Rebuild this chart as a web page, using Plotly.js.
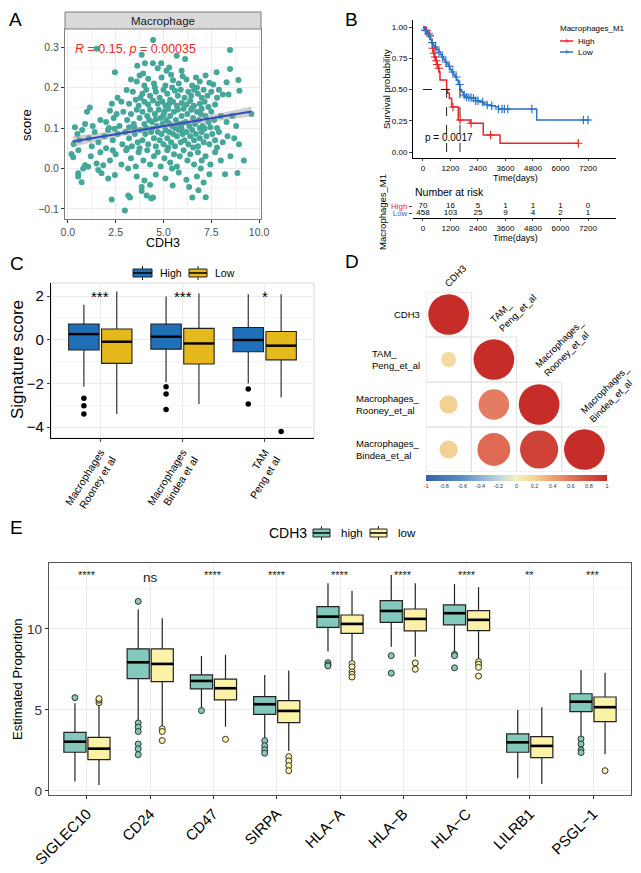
<!DOCTYPE html>
<html>
<head>
<meta charset="utf-8">
<script src="https://cdn.plot.ly/plotly-3.0.1.min.js"></script>
<style>
body { margin: 0; background: #fff; }
#fig { width: 641px; height: 873px; }
</style>
</head>
<body>
<div id="fig"></div>
<script>
const W = 641, H = 873;
const FONT = 'Liberation Sans, Arial, Helvetica, sans-serif';

// ---------- A: CDH3 vs macrophage score ----------
const scatterPoints = [
	[4.46,0.318],[1.5,0.296],[8.48,0.293],[3.86,0.281],[5.69,0.279],[6.13,0.271],[4.03,0.26],[4.45,0.26],[4.88,0.26],
	[3.63,0.254],[5.16,0.242],[5.95,0.242],[8.48,0.246],[7.78,0.238],[2.46,0.238],[3.94,0.235],[5.3,0.25],[4.7,0.248],
	[8.92,0.219],[8.3,0.213],[3.3,0.22],[3.6,0.215],[4.2,0.222],[4.5,0.21],[4.9,0.225],[5.1,0.205],[5.5,0.218],[5.8,0.21],
	[6.2,0.22],[6.5,0.205],[6.9,0.215],[7.2,0.23],[7.6,0.208],[4.0,0.205],[5.4,0.232],[6.0,0.228],[3.75,0.23],[6.7,0.225],[7.4,0.212],
	[8.97,0.192],[3.07,0.194],[3.4,0.19],[3.9,0.185],[4.1,0.195],[4.3,0.18],[4.6,0.19],[4.8,0.175],[5.0,0.195],[5.2,0.185],
	[5.35,0.17],[5.6,0.192],[5.75,0.18],[5.9,0.195],[6.1,0.175],[6.3,0.19],[6.45,0.18],[6.6,0.195],[6.8,0.185],[7.0,0.175],
	[7.1,0.195],[7.3,0.18],[7.5,0.19],[7.8,0.175],[8.1,0.183],[8.4,0.183],[2.8,0.165],[3.2,0.16],[3.55,0.17],[3.7,0.155],
	[4.0,0.165],[4.2,0.158],[4.45,0.168],[4.7,0.16],[4.95,0.165],[5.1,0.155],[5.3,0.16],[5.5,0.165],[5.7,0.155],[5.95,0.162],
	[6.2,0.158],[6.4,0.167],[6.6,0.155],[6.9,0.16],[7.15,0.165],[7.35,0.152],[7.7,0.158],[2.3,0.16],[1.15,0.151],[2.6,0.175],
	[3.8,0.175],[4.55,0.2],[5.45,0.2],[6.75,0.2],[7.9,0.195],
	[2.2,0.143],[2.55,0.135],[0.37,0.102],[0.9,0.11],[1.3,0.105],[1.7,0.12],[2.0,0.115],[2.4,0.125],[2.7,0.105],[2.9,0.14],
	[3.1,0.12],[3.3,0.135],[3.45,0.11],[3.6,0.145],[3.75,0.125],[3.9,0.14],[4.0,0.11],[4.15,0.13],[4.3,0.145],[4.4,0.115],
	[4.55,0.135],[4.65,0.105],[4.75,0.145],[4.85,0.125],[4.95,0.11],[5.05,0.14],[5.15,0.12],[5.25,0.148],[5.35,0.13],[5.45,0.105],
	[5.55,0.14],[5.65,0.12],[5.75,0.145],[5.85,0.11],[5.95,0.13],[6.05,0.148],[6.15,0.115],[6.25,0.135],[6.35,0.105],[6.45,0.145],
	[6.55,0.125],[6.65,0.11],[6.75,0.14],[6.85,0.12],[6.95,0.135],[7.05,0.105],[7.2,0.13],[7.35,0.115],[7.5,0.14],[7.65,0.12],
	[7.8,0.1],[8.0,0.13],[8.3,0.115],[8.6,0.13],[9.6,0.135],[8.8,0.105],[1.0,0.14],[4.1,0.1],[4.6,0.122],[5.0,0.133],
	[5.6,0.1],[6.0,0.112],[6.5,0.15],[7.0,0.148],[3.5,0.1],[3.2,0.102],[4.25,0.12],[5.3,0.112],[5.9,0.102],[6.9,0.1],[7.45,0.102],[2.15,0.1],
	[0.5,0.085],[0.75,0.095],[1.1,0.075],[1.4,0.09],[1.6,0.065],[1.9,0.08],[2.1,0.095],[2.35,0.07],[2.6,0.085],[2.85,0.06],
	[3.0,0.09],[3.2,0.075],[3.35,0.055],[3.5,0.085],[3.65,0.065],[3.8,0.095],[3.9,0.07],[4.05,0.085],[4.2,0.06],[4.35,0.09],
	[4.5,0.075],[4.6,0.055],[4.7,0.09],[4.8,0.07],[4.9,0.085],[5.0,0.06],[5.1,0.095],[5.2,0.075],[5.3,0.09],[5.4,0.065],
	[5.5,0.085],[5.6,0.055],[5.7,0.08],[5.8,0.095],[5.9,0.065],[6.0,0.085],[6.1,0.07],[6.2,0.09],[6.3,0.06],[6.4,0.08],
	[6.5,0.095],[6.6,0.07],[6.7,0.085],[6.8,0.055],[6.9,0.075],[7.0,0.09],[7.1,0.065],[7.25,0.08],[7.4,0.06],[7.55,0.085],
	[7.7,0.07],[7.9,0.09],[8.1,0.065],[8.35,0.08],[8.7,0.075],[8.95,0.06],[0.3,0.06],[0.6,0.07],[1.25,0.055],[2.0,0.05],
	[2.45,0.098],[3.1,0.05],[3.75,0.05],[4.4,0.098],[5.25,0.052],[5.95,0.098],[6.55,0.052],[7.15,0.098],[7.8,0.052],
	[0.19,0.036],[0.28,0.028],[0.8,0.0],[0.9,0.008],[1.06,0.004],[1.5,0.012],[1.85,0.008],[1.2,0.03],[1.7,0.04],[2.2,0.02],
	[2.5,0.035],[2.8,0.01],[3.05,0.045],[3.3,0.025],[3.55,0.005],[3.7,0.04],[3.95,0.02],[4.15,0.045],[4.3,0.01],[4.5,0.03],
	[4.7,0.04],[4.85,0.005],[5.05,0.025],[5.2,0.045],[5.35,0.015],[5.55,0.035],[5.7,0.005],[5.85,0.03],[6.05,0.045],[6.25,0.02],
	[6.4,0.035],[6.6,0.01],[6.8,0.04],[7.0,0.02],[7.2,0.03],[7.45,0.01],[7.7,0.04],[8.0,0.02],[8.5,0.03],[9.2,0.02],
	[5.45,0.0],[3.15,0.0],[6.95,0.0],[2.35,0.045],[0.55,0.045],
	[0.54,-0.012],[0.72,-0.034],[0.54,-0.02],[2.46,-0.016],[2.11,-0.025],[1.76,-0.012],[1.59,-0.004],[3.86,-0.046],[5.48,-0.042],
	[6.34,-0.046],[7.4,-0.014],[8.22,-0.014],[8.87,-0.011],[3.6,-0.02],[4.0,-0.03],[4.6,-0.015],[5.1,-0.025],[5.8,-0.01],
	[6.2,-0.028],[6.75,-0.02],[4.3,-0.04],[7.1,-0.035],
	[2.98,-0.104],[2.29,-0.077],[3.25,-0.072],[3.16,-0.067],[4.45,-0.072],[4.36,-0.074],[3.86,-0.056],[4.12,-0.067],
	[6.51,-0.072],[6.83,-0.054],[7.21,-0.071]
];
const fitIntercept = 0.065, fitSlope = 0.0079;
const fitRange = [0.25, 9.6];
const bandX = [0.25, 1.5, 3, 4.5, 5.5, 7, 8.5, 9.6];
const bandHalf = [0.013, 0.010, 0.007, 0.005, 0.005, 0.007, 0.010, 0.012];

// ---------- B: Kaplan-Meier ----------
const highTimes = [0, 60, 120, 200, 260, 330, 380, 420, 450, 500, 560, 600, 650, 700, 742, 1030, 1080, 1150, 1250, 1540, 2050, 2630, 3360, 6777];
const highSurv  = [1.0, 0.986, 0.971, 0.957, 0.929, 0.9, 0.87, 0.83, 0.79, 0.76, 0.73, 0.70, 0.67, 0.64, 0.576, 0.5, 0.47, 0.43, 0.36, 0.256, 0.23, 0.136, 0.07, 0.07];
const lowTimes = [0, 40, 90, 140, 200, 260, 320, 380, 450, 520, 600, 680, 750, 820, 900, 970, 1040, 1110, 1180, 1250, 1320, 1400, 1470, 1540, 1615, 1690, 1760, 1830, 1950, 2124, 2300, 2487, 2650, 2780, 2950, 3142, 3287, 4960, 7287];
const lowSurv  = [1.0, 0.99, 0.975, 0.96, 0.945, 0.925, 0.9, 0.875, 0.855, 0.84, 0.82, 0.8, 0.78, 0.76, 0.74, 0.72, 0.705, 0.685, 0.66, 0.64, 0.62, 0.6, 0.576, 0.54, 0.498, 0.48, 0.456, 0.44, 0.435, 0.43, 0.41, 0.40, 0.385, 0.376, 0.37, 0.362, 0.344, 0.256, 0.256];
const highCensor = [150, 300, 430, 480, 520, 580, 620, 690, 1310, 1620, 2100, 2950, 6777];
const lowCensor = [100, 250, 400, 550, 700, 850, 1000, 1150, 1300, 1450, 1600, 1800, 1900, 2000, 2100, 2200, 2300, 2400, 2600, 2800, 3000, 3300, 3450, 3550, 3700, 4750, 7000, 7200];
const riskTimes = [0, 1200, 2400, 3600, 4800, 6000, 7200];
const riskHigh = [70, 16, 5, 1, 1, 1, 0];
const riskLow = [458, 103, 25, 9, 4, 2, 1];
const logRankP = 'p = 0.0017';

// ---------- C: signature scores ----------
const sigSets = ['Macrophages<br>Rooney et al', 'Macrophages<br>Bindea et al', 'TAM<br>Peng et al'];
const cHighLo = [-2.15, -1.95, -2.0];
const cHighQ1 = [-0.47, -0.43, -0.55];
const cHighMed = [0.26, 0.14, -0.01];
const cHighQ3 = [0.72, 0.72, 0.56];
const cHighUp = [1.6, 1.98, 2.09];
const cHighOut = [[-2.68, -3.02, -3.4], [-2.15, -2.49, -3.19], [-2.26, -2.94]];
const cLowLo = [-3.4, -2.94, -2.64];
const cLowQ1 = [-1.08, -1.11, -0.92];
const cLowMed = [-0.09, -0.17, -0.27];
const cLowQ3 = [0.49, 0.52, 0.38];
const cLowUp = [2.21, 2.12, 2.09];
const cLowOut = [[], [], [-4.2]];
const cStars = ['***', '***', '*'];

// ---------- D: correlation ----------
const corrNames = ['CDH3', 'TAM_<br>Peng_et_al', 'Macrophages_<br>Rooney_et_al', 'Macrophages_<br>Bindea_et_al'];
const corrMatrix = [
	[1],
	[0.14, 1],
	[0.2, 0.56, 1],
	[0.2, 0.65, 0.88, 1]
];

// ---------- E: checkpoint genes ----------
const genes = ['SIGLEC10', 'CD24', 'CD47', 'SIRPA', 'HLA\u2212A', 'HLA\u2212B', 'HLA\u2212C', 'LILRB1', 'PSGL\u22121'];
const eHighLo = [0.58, 4.32, 5.1, 3.25, 8.6, 8.9, 8.54, 0.78, 3.31];
const eHighQ1 = [2.39, 6.93, 6.3, 4.73, 10.1, 10.41, 10.25, 2.39, 4.9];
const eHighMed = [3.04, 7.94, 6.79, 5.35, 10.76, 11.11, 10.97, 3.0, 5.51];
const eHighQ3 = [3.62, 8.77, 7.16, 5.82, 11.38, 11.75, 11.48, 3.52, 6.0];
const eHighUp = [5.41, 11.2, 8.33, 7.16, 12.82, 13.33, 12.78, 5.0, 7.47];
const eHighOut = [[5.76], [11.7, 4.2, 3.94, 3.67, 2.9, 2.6, 2.24], [4.96], [3.1, 2.79, 2.54, 2.33], [7.92, 7.78, 7.72], [8.35, 7.27], [8.43, 8.35, 7.6], [], [3.21, 2.9, 2.53, 2.37]];
const eLowLo = [0.37, 3.97, 3.97, 2.47, 7.98, 8.29, 8.09, 0.43, 2.26];
const eLowQ1 = [1.93, 6.75, 5.62, 4.22, 9.73, 9.88, 9.9, 2.06, 4.28];
const eLowMed = [2.61, 7.84, 6.34, 4.94, 10.31, 10.62, 10.56, 2.78, 5.17];
const eLowQ3 = [3.31, 8.77, 6.9, 5.57, 10.86, 11.23, 11.13, 3.35, 5.8];
const eLowUp = [5.3, 10.66, 8.4, 7.43, 12.35, 12.82, 12.57, 5.17, 7.3];
const eLowOut = [[5.45, 5.6, 5.7], [3.84, 3.67, 3.11], [3.19], [2.12, 1.85, 1.56, 1.25], [7.86, 7.66, 7.35, 7.2, 7.03], [7.9, 7.51], [7.98, 7.82, 7.63, 7.09], [], [1.25]];
const eSig = ['****', 'ns', '****', '****', '****', '****', '****', '**', '***'];

// colours
const teal = '#45A69A', fitBlue = '#2D4FC2', rPink = '#EC2B2B';
const kmRed = '#E8262A', kmBlue = '#2B74C4';
const cHighCol = '#2070B8', cLowCol = '#E5B81C';
const eHighCol = '#82C9BC', eLowCol = '#FBF1A7';

// pixel helpers
function px(x) { return x / W; }
function py(y) { return 1 - y / H; }
function domX(a, b) { return [a / W, b / W]; }
function domY(top, bottom) { return [1 - bottom / H, 1 - top / H]; }

function note(text, x, y, size, extra) {
	return Object.assign({
		text: text, x: px(x), y: py(y), xref: 'paper', yref: 'paper',
		xanchor: 'center', yanchor: 'middle',
		showarrow: false, font: { size: size, color: '#000', family: FONT }
	}, extra || {});
}

let traces = [];
let shapes = [];
let annotations = [];

// ===== A =====
traces.push({
	type: 'scatter', mode: 'markers', xaxis: 'x', yaxis: 'y',
	x: scatterPoints.map(p => p[0]), y: scatterPoints.map(p => p[1]),
	marker: { size: 6, color: teal }, hoverinfo: 'skip'
});
let upper = bandX.map((x, i) => fitIntercept + fitSlope * x + bandHalf[i]);
let lower = bandX.map((x, i) => fitIntercept + fitSlope * x - bandHalf[i]);
traces.push({
	type: 'scatter', mode: 'lines', xaxis: 'x', yaxis: 'y',
	x: bandX.concat(bandX.slice().reverse()), y: upper.concat(lower.slice().reverse()),
	fill: 'toself', fillcolor: 'rgba(150,150,150,0.45)', line: { width: 0 }, hoverinfo: 'skip'
});
traces.push({
	type: 'scatter', mode: 'lines', xaxis: 'x', yaxis: 'y',
	x: fitRange, y: fitRange.map(x => fitIntercept + fitSlope * x),
	line: { color: fitBlue, width: 2 }, hoverinfo: 'skip'
});
shapes.push({ type: 'rect', xref: 'paper', yref: 'paper', x0: px(65), x1: px(261), y0: py(29), y1: py(12),
	fillcolor: '#D9D9D9', line: { color: '#7F7F7F', width: 1 } });
annotations.push(note('A', 7, 19, 19, { xanchor: 'left' }));
annotations.push(note('Macrophage', 163, 20.5, 11.5, { font: { size: 11.5, color: '#1A1A1A', family: FONT } }));
annotations.push(note('<i>R</i> = 0.15, <i>p</i> = 0.00035', 73, 49, 12.5, { xanchor: 'left', font: { size: 12.5, color: rPink, family: FONT } }));
annotations.push(note('score', 27, 125, 13, { textangle: -90 }));
annotations.push(note('CDH3', 163, 243, 12.5));

// ===== B =====
function survAt(t, times, surv) {
	let v = surv[0];
	for (let i = 0; i < times.length; i++) if (times[i] <= t) v = surv[i];
	return v;
}
function medianTime(times, surv) {
	for (let i = 0; i < surv.length; i++) if (surv[i] <= 0.5) return times[i];
	return null;
}
[[highTimes, highSurv, highCensor, kmRed], [lowTimes, lowSurv, lowCensor, kmBlue]].forEach(([t, s, c, col]) => {
	traces.push({
		type: 'scatter', mode: 'lines', xaxis: 'x2', yaxis: 'y2', x: t, y: s,
		line: { shape: 'hv', color: col, width: 1.5 }, hoverinfo: 'skip'
	});
	traces.push({
		type: 'scatter', mode: 'markers', xaxis: 'x2', yaxis: 'y2', x: c, y: c.map(v => survAt(v, t, s)),
		marker: { symbol: 'cross-thin', size: 6, line: { color: col, width: 1.2 } }, hoverinfo: 'skip'
	});
});
let medHigh = medianTime(highTimes, highSurv), medLow = medianTime(lowTimes, lowSurv);
let dash = { color: '#222', width: 1, dash: 'dash' };
shapes.push({ type: 'line', xref: 'x2', yref: 'y2', x0: 0, x1: Math.max(medHigh, medLow), y0: 0.5, y1: 0.5, line: dash });
shapes.push({ type: 'line', xref: 'x2', yref: 'y2', x0: medHigh, x1: medHigh, y0: 0, y1: 0.5, line: dash });
shapes.push({ type: 'line', xref: 'x2', yref: 'y2', x0: medLow, x1: medLow, y0: 0, y1: 0.5, line: dash });

traces.push({
	type: 'scatter', mode: 'text', xaxis: 'x3', yaxis: 'y3', x: riskTimes, y: riskTimes.map(() => 2),
	text: riskHigh.map(String), textfont: { size: 8, color: '#000', family: FONT }, hoverinfo: 'skip'
});
traces.push({
	type: 'scatter', mode: 'text', xaxis: 'x3', yaxis: 'y3', x: riskTimes, y: riskTimes.map(() => 1),
	text: riskLow.map(String), textfont: { size: 8, color: '#000', family: FONT }, hoverinfo: 'skip'
});
annotations.push(note('B', 343, 19, 19, { xanchor: 'left' }));
annotations.push(note('Survival probability', 387, 89, 9.5, { textangle: -90 }));
annotations.push(note('Time(days)', 515, 178, 9));
annotations.push(note(logRankP, 423, 137, 10, { xanchor: 'left' }));
annotations.push(note('Number at risk', 413, 192, 10.5, { xanchor: 'left' }));
annotations.push(note('Time(days)', 515, 238, 9));
annotations.push(note('Macrophages_M1', 382, 212, 9.5, { textangle: -90 }));
// B legend
annotations.push(note('Macrophages_M1', 558, 29, 8, { xanchor: 'left' }));
[['High', kmRed, 41], ['Low', kmBlue, 52]].forEach(([lab, col, y]) => {
	shapes.push({ type: 'line', xref: 'paper', yref: 'paper', x0: px(560), x1: px(573), y0: py(y), y1: py(y), line: { color: col, width: 1.5 } });
	annotations.push(note('+', 566.5, y, 9, { font: { size: 9, color: col, family: FONT } }));
	annotations.push(note(lab, 576, y, 8, { xanchor: 'left' }));
});

// ===== C and E box helpers =====
function boxTraces(ax, pos, lo, q1, med, q3, up, outs, col, width, lineW, outStyle) {
	let out = [];
	out.push({
		type: 'box', xaxis: 'x' + ax, yaxis: 'y' + ax, x: pos,
		lowerfence: lo, q1: q1, median: med, q3: q3, upperfence: up,
		width: width, whiskerwidth: 0, boxpoints: false,
		fillcolor: col, line: { color: '#222', width: lineW }, hoverinfo: 'skip'
	});
	let mx = [], my = [];
	pos.forEach((p, i) => { mx.push(p - width / 2, p + width / 2, null); my.push(med[i], med[i], null); });
	out.push({ type: 'scatter', mode: 'lines', xaxis: 'x' + ax, yaxis: 'y' + ax, x: mx, y: my,
		line: { color: '#000', width: lineW * 2.2 }, hoverinfo: 'skip' });
	let ox = [], oy = [];
	outs.forEach((arr, i) => arr.forEach(v => { ox.push(pos[i]); oy.push(v); }));
	out.push(Object.assign({ type: 'scatter', mode: 'markers', xaxis: 'x' + ax, yaxis: 'y' + ax, x: ox, y: oy, hoverinfo: 'skip' }, outStyle));
	return out;
}
function boxKey(x0, x1, yTop, yBot, col) {
	let cx = (x0 + x1) / 2, mid = (yTop + yBot) / 2;
	shapes.push({ type: 'line', xref: 'paper', yref: 'paper', x0: px(cx), x1: px(cx), y0: py(yTop), y1: py(yBot), line: { color: '#222', width: 1 } });
	shapes.push({ type: 'rect', xref: 'paper', yref: 'paper', x0: px(x0), x1: px(x1), y0: py(yTop + 3), y1: py(yBot - 3), fillcolor: col, line: { color: '#222', width: 1 } });
	shapes.push({ type: 'line', xref: 'paper', yref: 'paper', x0: px(x0), x1: px(x1), y0: py(mid), y1: py(mid), line: { color: '#000', width: 1.5 } });
}

// ===== C =====
let cIdx = sigSets.map((_, i) => i + 1);
traces = traces.concat(boxTraces(4, cIdx.map(i => i - 0.2), cHighLo, cHighQ1, cHighMed, cHighQ3, cHighUp, cHighOut, cHighCol, 0.37, 1.1,
	{ marker: { size: 5.5, color: '#000' } }));
traces = traces.concat(boxTraces(4, cIdx.map(i => i + 0.2), cLowLo, cLowQ1, cLowMed, cLowQ3, cLowUp, cLowOut, cLowCol, 0.37, 1.1,
	{ marker: { size: 5.5, color: '#000' } }));
cStars.forEach((s, i) => annotations.push({ text: s, x: i + 1, y: 2.0, xref: 'x4', yref: 'y4', showarrow: false,
	xanchor: 'center', yanchor: 'middle', font: { size: 15, color: '#000', family: FONT } }));
shapes.push({ type: 'rect', xref: 'paper', yref: 'paper', x0: px(51), x1: px(314), y0: py(438), y1: py(283), line: { color: '#D9D9D9', width: 1 }, layer: 'below' });
annotations.push(note('C', 8, 263, 19, { xanchor: 'left' }));
annotations.push(note('Signature score', 17, 360, 17, { textangle: -90 }));
boxKey(133, 152, 266, 280, cHighCol);
boxKey(189, 207, 266, 280, cLowCol);
annotations.push(note('High', 158, 273, 10.5, { xanchor: 'left' }));
annotations.push(note('Low', 213, 273, 10.5, { xanchor: 'left' }));

// ===== D =====
const dLeft = 426, dTop = 292, dRight = 607;
const cellPx = (dRight - dLeft) / corrNames.length;
let dX = [], dY = [], dR = [];
corrMatrix.forEach((row, i) => row.forEach((r, j) => {
	dX.push(j + 1); dY.push(i + 1); dR.push(r);
	shapes.push({ type: 'rect', xref: 'x5', yref: 'y5', x0: j + 0.5, x1: j + 1.5, y0: i + 0.5, y1: i + 1.5,
		line: { color: '#E2E2E2', width: 1 }, layer: 'below' });
}));
const corrScale = [
	[0, '#3361A8'], [0.2, '#5D8FC4'], [0.4, '#B8D5DF'], [0.5, '#F7F0BA'],
	[0.6, '#F3D194'], [0.8, '#E1735A'], [1, '#C62D29']
];
const cbTicks = [-1, -0.8, -0.6, -0.4, -0.2, 0, 0.2, 0.4, 0.6, 0.8, 1];
traces.push({
	type: 'scatter', mode: 'markers', xaxis: 'x5', yaxis: 'y5', x: dX, y: dY,
	marker: {
		size: dR.map(r => 0.9 * cellPx * Math.sqrt(Math.abs(r))), color: dR, cmin: -1, cmax: 1,
		colorscale: corrScale, line: { width: 0 }, opacity: 1,
		showscale: true,
		colorbar: {
			orientation: 'h', x: px((dLeft + dRight) / 2), xanchor: 'center', y: py(475), yanchor: 'top',
			len: dRight - dLeft, lenmode: 'pixels', thickness: 6, outlinewidth: 0, xpad: 0, ypad: 0,
			tickvals: cbTicks, ticktext: cbTicks.map(String), ticks: '',
			tickfont: { size: 5.5, color: '#333', family: FONT }
		}
	},
	hoverinfo: 'skip'
});
corrNames.forEach((name, i) => {
	annotations.push({ text: name, x: px(422), y: i + 1, xref: 'paper', yref: 'y5', xanchor: 'right', yanchor: 'middle', align: 'left',
		showarrow: false, font: { size: 9.5, color: '#000', family: FONT } });
	annotations.push(note(name, dLeft + (i + 0.3) * cellPx, dTop + i * cellPx - 1, 9.5,
		{ xanchor: 'left', yanchor: 'bottom', textangle: -45, align: 'left' }));
});
annotations.push(note('D', 343, 261, 19, { xanchor: 'left' }));

// ===== E =====
let eIdx = genes.map((_, i) => i + 1);
traces = traces.concat(boxTraces(6, eIdx.map(i => i - 0.19), eHighLo, eHighQ1, eHighMed, eHighQ3, eHighUp, eHighOut, eHighCol, 0.35, 1.2,
	{ marker: { size: 6, color: eHighCol, line: { color: '#333', width: 1 } } }));
traces = traces.concat(boxTraces(6, eIdx.map(i => i + 0.19), eLowLo, eLowQ1, eLowMed, eLowQ3, eLowUp, eLowOut, eLowCol, 0.35, 1.2,
	{ marker: { size: 6, color: eLowCol, line: { color: '#333', width: 1 } } }));
eSig.forEach((s, i) => annotations.push({ text: s, x: i + 1, y: s === 'ns' ? 13.2 : 13.3, xref: 'x6', yref: 'y6', showarrow: false,
	xanchor: 'center', yanchor: 'middle', font: { size: s === 'ns' ? 13.5 : 11, color: '#222', family: FONT } }));
annotations.push(note('E', 8, 527, 19, { xanchor: 'left' }));
annotations.push(note('Estimated Proportion', 17, 680, 13, { textangle: -90 }));
annotations.push(note('CDH3', 267, 533, 14, { xanchor: 'left' }));
boxKey(313, 330, 526, 540, eHighCol);
boxKey(370, 387, 526, 540, eLowCol);
annotations.push(note('high', 339, 533, 11.5, { xanchor: 'left' }));
annotations.push(note('low', 396, 533, 11.5, { xanchor: 'left' }));

// ===== axes =====
const grid = '#EBEBEB', minorGrid = '#F4F4F4';
const layout = {
	width: W, height: H,
	margin: { l: 0, r: 0, t: 0, b: 0 },
	paper_bgcolor: '#fff', plot_bgcolor: 'rgba(0,0,0,0)',
	font: { family: FONT, color: '#000' },
	showlegend: false,
	shapes: shapes,
	annotations: annotations,
	// A
	xaxis: {
		domain: domX(65, 261), anchor: 'y', range: [-0.15, 10.1],
		tickvals: [0, 2.5, 5, 7.5, 10], ticktext: ['0.0', '2.5', '5.0', '7.5', '10.0'],
		showgrid: true, gridcolor: grid, zeroline: false,
		minor: { tickvals: [1.25, 3.75, 6.25, 8.75], showgrid: true, gridcolor: minorGrid },
		showline: true, mirror: true, linecolor: '#7F7F7F', linewidth: 1,
		ticks: 'outside', ticklen: 3, tickcolor: '#333',
		tickfont: { size: 10.5, color: '#4D4D4D' }
	},
	yaxis: {
		domain: domY(29, 219), anchor: 'x', range: [-0.125, 0.345],
		tickvals: [-0.1, 0, 0.1, 0.2, 0.3], ticktext: ['\u22120.1', '0.0', '0.1', '0.2', '0.3'],
		showgrid: true, gridcolor: grid, zeroline: false,
		minor: { tickvals: [-0.05, 0.05, 0.15, 0.25], showgrid: true, gridcolor: minorGrid },
		showline: true, mirror: true, linecolor: '#7F7F7F', linewidth: 1,
		ticks: 'outside', ticklen: 3, tickcolor: '#333',
		tickfont: { size: 10.5, color: '#4D4D4D' }
	},
	// B KM
	xaxis2: {
		domain: domX(413, 616), anchor: 'y2', range: [-436, 8422],
		tickvals: riskTimes, showgrid: false, zeroline: false,
		showline: true, linecolor: '#000', linewidth: 1,
		ticks: 'outside', ticklen: 2, tickfont: { size: 8 }
	},
	yaxis2: {
		domain: domY(20, 158), anchor: 'x2', range: [-0.048, 1.056],
		tickvals: [0, 0.25, 0.5, 0.75, 1], ticktext: ['0.00', '0.25', '0.50', '0.75', '1.00'],
		showgrid: false, zeroline: false,
		showline: true, linecolor: '#000', linewidth: 1,
		ticks: 'outside', ticklen: 3, tickfont: { size: 8 }
	},
	// B risk table
	xaxis3: {
		domain: domX(413, 616), anchor: 'y3', range: [-436, 8422],
		tickvals: riskTimes, showgrid: false, zeroline: false,
		showline: true, linecolor: '#000', linewidth: 1,
		ticks: 'outside', ticklen: 2, tickfont: { size: 8 }
	},
	yaxis3: {
		domain: domY(200, 218), anchor: 'x3', range: [0.29, 2.86],
		tickvals: [2, 1],
		ticktext: ['<span style="color:' + kmRed + '">High</span>', '<span style="color:' + kmBlue + '">Low</span>'],
		showgrid: false, zeroline: false, showline: false,
		ticks: 'outside', ticklen: 3, tickfont: { size: 8 }
	},
	// C
	xaxis4: {
		domain: domX(51, 314), anchor: 'y4', range: [0.4, 3.6],
		tickvals: cIdx, ticktext: sigSets, tickangle: -58,
		showgrid: true, gridcolor: grid, zeroline: false,
		showline: true, linecolor: '#000', linewidth: 1.2,
		ticks: 'outside', ticklen: 3, tickfont: { size: 10.5, color: '#000' }
	},
	yaxis4: {
		domain: domY(283, 438), anchor: 'x4', range: [-4.5, 2.6],
		tickvals: [-4, -2, 0, 2], ticktext: ['\u22124', '\u22122', '0', '2'],
		showgrid: true, gridcolor: grid, zeroline: false,
		minor: { tickvals: [-3, -1, 1], showgrid: true, gridcolor: minorGrid },
		showline: true, linecolor: '#000', linewidth: 1.2,
		ticks: 'outside', ticklen: 3, tickfont: { size: 15, color: '#000' }
	},
	// D
	xaxis5: { domain: domX(dLeft, dRight), anchor: 'y5', range: [0.5, 4.5], visible: false },
	yaxis5: { domain: domY(dTop, 472), anchor: 'x5', range: [4.5, 0.5], visible: false },
	// E
	xaxis6: {
		domain: domX(49, 631), anchor: 'y6', range: [0.4, 9.6],
		tickvals: eIdx, ticktext: genes, tickangle: -45,
		showgrid: true, gridcolor: grid, zeroline: false,
		showline: true, mirror: true, linecolor: '#555', linewidth: 1.2,
		ticks: 'outside', ticklen: 3, tickcolor: '#333', tickfont: { size: 15, color: '#000' }
	},
	yaxis6: {
		domain: domY(563, 795), anchor: 'x6', range: [-0.25, 14.07],
		tickvals: [0, 5, 10],
		showgrid: true, gridcolor: grid, zeroline: false,
		minor: { tickvals: [2.5, 7.5, 12.5], showgrid: true, gridcolor: minorGrid },
		showline: true, mirror: true, linecolor: '#555', linewidth: 1.2,
		ticks: 'outside', ticklen: 3, tickcolor: '#333', tickfont: { size: 13.5, color: '#333' }
	}
};

Plotly.newPlot('fig', traces, layout, { displayModeBar: false, staticPlot: true });
</script>
</body>
</html>
